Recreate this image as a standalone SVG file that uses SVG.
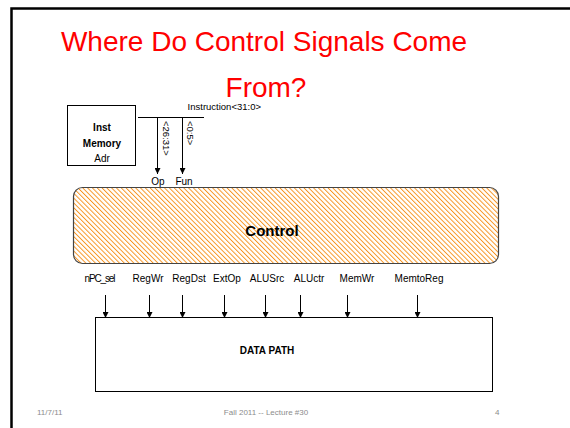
<svg xmlns="http://www.w3.org/2000/svg" width="570" height="428" viewBox="0 0 570 428">
  <defs>
    <pattern id="hatch" width="3.4" height="3.4" patternUnits="userSpaceOnUse" patternTransform="rotate(-45)">
      <rect width="3.4" height="3.4" fill="#ffffff"/>
      <line x1="0" y1="0" x2="0" y2="3.4" stroke="#f7931e" stroke-width="1.9"/>
    </pattern>
    <marker id="arrow" viewBox="0 0 6 6" refX="6" refY="3" markerWidth="6" markerHeight="6" orient="auto" markerUnits="userSpaceOnUse">
      <path d="M0,0 L6,3 L0,6 Z" fill="#000"/>
    </marker>
  </defs>
  <style>
    .t { font-family: "Liberation Sans", Arial, sans-serif; fill: #000; }
    .b { font-weight: bold; }
    .wire { stroke: #000; stroke-width: 1; fill: none; }
    .foot { font-family: "Liberation Sans", Arial, sans-serif; font-size: 8px; fill: #8c8c8c; }
  </style>

  <rect width="570" height="428" fill="#ffffff"/>
  <!-- slide frame -->
  <path d="M11.5,428 L11.5,8.5 L570,8.5" stroke="#000" stroke-width="2.5" fill="none"/>

  <!-- title -->
  <g id="title" font-family="'Liberation Sans', Arial, sans-serif" fill="#ff0000" font-size="28">
    <text x="264" y="51" text-anchor="middle">Where Do Control Signals Come</text>
    <text x="266" y="97" text-anchor="middle">From?</text>
  </g>

  <!-- instruction memory -->
  <g id="inst-memory">
    <rect x="67.5" y="105.5" width="68" height="60" fill="#fff" stroke="#000" stroke-width="1"/>
    <text class="t b" x="102" y="131" font-size="10" text-anchor="middle">Inst</text>
    <text class="t b" x="102" y="147" font-size="10" text-anchor="middle">Memory</text>
    <text class="t" x="102" y="162" font-size="10" text-anchor="middle">Adr</text>
  </g>

  <!-- control unit -->
  <g id="control">
    <rect x="73.5" y="187.5" width="425" height="76" rx="9" ry="9" fill="url(#hatch)" stroke="#444" stroke-width="1.2"/>
    <text class="t b" x="272" y="236" font-size="15" text-anchor="middle">Control</text>
  </g>

  <!-- datapath -->
  <g id="datapath">
    <rect x="95.5" y="317.5" width="397" height="74" fill="#fff" stroke="#000" stroke-width="1"/>
    <text class="t b" x="267" y="354" font-size="10" text-anchor="middle">DATA PATH</text>
  </g>

  <!-- connectors -->
  <g id="connectors">
    <line class="wire" x1="138" y1="117.5" x2="204" y2="117.5"/>
    <line class="wire" x1="157.5" y1="117.5" x2="157.5" y2="174" marker-end="url(#arrow)"/>
    <line class="wire" x1="182.5" y1="117.5" x2="182.5" y2="174" marker-end="url(#arrow)"/>
    <line class="wire" x1="105.5" y1="295" x2="105.5" y2="318" marker-end="url(#arrow)"/>
    <line class="wire" x1="149.5" y1="295" x2="149.5" y2="318" marker-end="url(#arrow)"/>
    <line class="wire" x1="182.5" y1="295" x2="182.5" y2="318" marker-end="url(#arrow)"/>
    <line class="wire" x1="224.5" y1="295" x2="224.5" y2="318" marker-end="url(#arrow)"/>
    <line class="wire" x1="265.5" y1="295" x2="265.5" y2="318" marker-end="url(#arrow)"/>
    <line class="wire" x1="300.5" y1="295" x2="300.5" y2="318" marker-end="url(#arrow)"/>
    <line class="wire" x1="347.5" y1="295" x2="347.5" y2="318" marker-end="url(#arrow)"/>
    <line class="wire" x1="417.5" y1="295" x2="417.5" y2="318" marker-end="url(#arrow)"/>
  </g>

  <!-- bus and signal labels -->
  <g id="labels">
    <text class="t" x="261" y="110" text-anchor="end" font-size="9.5">Instruction&lt;31:0&gt;</text>
    <text class="t" transform="translate(163,121) rotate(90)" font-size="9.5">&lt;26:31&gt;</text>
    <text class="t" transform="translate(187,121) rotate(90)" font-size="9.5">&lt;0:5&gt;</text>
    <text class="t" x="158" y="185" text-anchor="middle" font-size="10">Op</text>
    <text class="t" x="184" y="185" text-anchor="middle" font-size="10">Fun</text>
    <text class="t" x="100" y="282" text-anchor="middle" font-size="10" textLength="31">nPC_sel</text>
    <text class="t" x="148" y="282" text-anchor="middle" font-size="10">RegWr</text>
    <text class="t" x="189" y="282" text-anchor="middle" font-size="10">RegDst</text>
    <text class="t" x="227" y="282" text-anchor="middle" font-size="10">ExtOp</text>
    <text class="t" x="267" y="282" text-anchor="middle" font-size="10">ALUSrc</text>
    <text class="t" x="309" y="282" text-anchor="middle" font-size="10">ALUctr</text>
    <text class="t" x="357" y="282" text-anchor="middle" font-size="10">MemWr</text>
    <text class="t" x="419" y="282" text-anchor="middle" font-size="10">MemtoReg</text>
  </g>

  <!-- footer -->
  <g id="footer">
    <text class="foot" x="37" y="415">11/7/11</text>
    <text class="foot" x="266" y="415" text-anchor="middle">Fall 2011 -- Lecture #30</text>
    <text class="foot" x="495" y="415">4</text>
  </g>
</svg>
